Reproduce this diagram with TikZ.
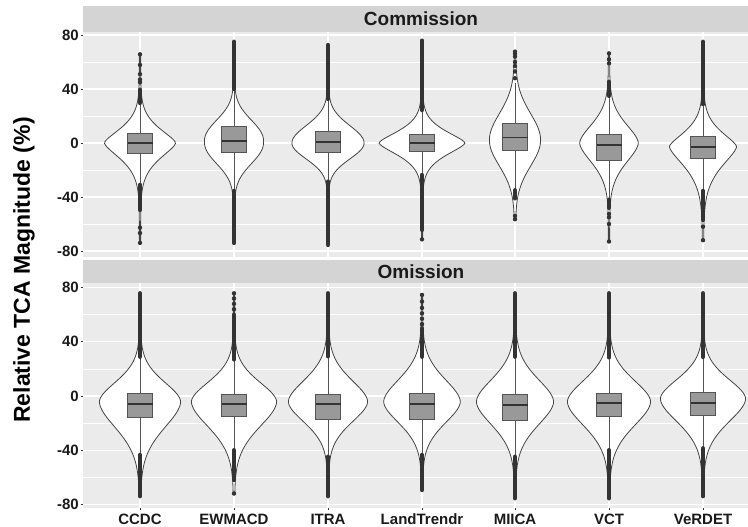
\documentclass[tikz,border=0pt]{standalone}
\usepackage{fontspec}
\setmainfont{Liberation Sans}
\usepackage{xcolor}
\usepackage{tikz}

\definecolor{panelbg}{HTML}{EBEBEB}
\definecolor{stripbg}{HTML}{D4D4D4}
\definecolor{boxfill}{HTML}{999999}
\definecolor{boxline}{HTML}{555555}
\definecolor{violinline}{HTML}{444444}
\definecolor{dotcol}{HTML}{333333}
\definecolor{axistext}{HTML}{1A1A1A}

\begin{document}
\begin{tikzpicture}[x=1pt,y=1pt,
  panel/.style={fill=panelbg},
  strip/.style={fill=stripbg},
  major/.style={draw=white,line width=1.3pt},
  minor/.style={draw=white,line width=0.6pt},
  violin/.style={draw=violinline,fill=white,line width=0.8pt},
  boxp/.style={draw=boxline,fill=boxfill,line width=0.8pt},
  median/.style={draw=dotcol,line width=1.8pt},
  whisk/.style={draw=boxline,line width=0.8pt},
  dense/.style={draw=dotcol,line width=4.4pt,line cap=round},
  pnt/.style={fill=dotcol},
  tickm/.style={draw=dotcol,line width=0.8pt},
  ticklab/.style={anchor=east,inner sep=0pt,text=axistext,font=\fontsize{15}{18}\selectfont\bfseries},
  catlab/.style={inner sep=0pt,text=axistext,font=\fontsize{15}{18}\selectfont\bfseries},
  striplab/.style={inner sep=0pt,text=axistext,font=\fontsize{19}{22}\selectfont\bfseries}]
\useasboundingbox (0,0) rectangle (748,527);
\fill[white] (0,0) rectangle (748,527);

% strips and panels
\fill[strip] (83,495) rectangle (748,521);
\fill[panel] (83,270.3) rectangle (748,495);
\fill[strip] (83,243.7) rectangle (748,267);
\fill[panel] (83,19) rectangle (748,243.7);
\node[striplab](commission) at (421,508){Commission};
\node[striplab](omission) at (421,255.4){Omission};

% top panel: Commission
\begin{scope}[shift={(0pt,384pt)},y=1.35pt]
\foreach \v in {-60,-20,20,60} \draw[minor] (83,\v) -- (748,\v);
\foreach \v in {-80,-40,0,40,80} \draw[major] (83,\v) -- (748,\v);
\foreach \cx in {140,234,328,422,515,609,703} \draw[major] (\cx,-84.2) -- (\cx,82.2);
\foreach \v [count=\i] in {-80,-40,0,40,80}{
  \draw[tickm] (80.5,\v) -- (83,\v);
  \node[ticklab](ctick\i) at (79,\v){\v};
}
% violins: x / width / peak / spread up / spread down / power / min / max
\foreach \cx/\W/\c/\su/\sd/\p/\lo/\hi in {
  140/35/0/15/16.5/1.5/-74/66,
  234/29/1/21/21.5/2.2/-74/75,
  328/35.5/0/18/16.5/2/-75.5/72.6,
  422/42.4/0/12.5/13/1.5/-71.4/75.8,
  515/25/2.2/27.5/27/2/-57/68,
  609/28.7/0/20/21/1.7/-73/66.4,
  703/33/-2.7/15.3/20.9/1.5/-72/75}
  \draw[violin] plot[domain=\lo:\hi,samples=121]
    ({\cx+0.6+\W*exp(-((abs(\x-\c)/((\x>\c)?\su:\sd)+0.001)^\p))},\x)
    -- plot[domain=\hi:\lo,samples=121]
    ({\cx-0.6-\W*exp(-((abs(\x-\c)/((\x>\c)?\su:\sd)+0.001)^\p))},\x) -- cycle;
% boxes: x / q3 / q1 / median / upper whisker / lower whisker
\foreach \cx/\bt/\bb/\md/\wh/\wl in {
  140/7.2/-8/0/30/-30.8,
  234/12/-7/1.7/40.5/-35.5,
  328/8.9/-6.9/0.7/32.6/-28.6,
  422/6.4/-6.4/0/24.4/-23.7,
  515/14.6/-5.2/4/44.3/-34.9,
  609/6.4/-12.6/-1.5/34.9/-41,
  703/4.7/-11.4/-2.7/28.8/-35.5}{
  \draw[whisk] (\cx,\wl) -- (\cx,\bb) (\cx,\bt) -- (\cx,\wh);
  \draw[boxp] (\cx-12.5,\bb) rectangle (\cx+12.5,\bt);
  \draw[median] (\cx-12.5,\md) -- (\cx+12.5,\md);
}
% outliers
\foreach \cx/\a/\b in {140/29.6/39.5,140/-31/-49.6,234/40/75,234/-35.5/-74,
  328/32.6/72.6,328/-28.6/-75.5,422/24.4/75.8,422/-23.7/-64.4,515/-35/-41,
  609/34.9/45.4,609/-42/-48,703/28.8/75,703/-35.5/-57}
  \draw[dense] (\cx,\a) -- (\cx,\b);
\foreach \cx/\v in {140/45,140/47,140/51,140/57.8,140/65.7,140/-62.7,140/-66.7,
  140/-74,422/-71.4,515/48,515/53,515/57,515/60,515/64,515/66,515/67.7,
  515/-54,515/-56.5,609/59,609/62,609/66.4,609/-52.6,609/-55,609/-60,
  609/-73,703/-62,703/-72}
  \fill[pnt] (\cx,\v) circle (2.2pt);
\end{scope}

% bottom panel: Omission
\begin{scope}[shift={(0pt,131pt)},y=1.355pt]
\foreach \v in {-60,-20,20,60} \draw[minor] (83,\v) -- (748,\v);
\foreach \v in {-80,-40,0,40,80} \draw[major] (83,\v) -- (748,\v);
\foreach \cx in {140,234,328,422,515,609,703} \draw[major] (\cx,-82.7) -- (\cx,83.2);
\foreach \v [count=\i] in {-80,-40,0,40,80}{
  \draw[tickm] (80.5,\v) -- (83,\v);
  \node[ticklab](otick\i) at (79,\v){\v};
}
\foreach \cx/\W/\c/\su/\sd/\p/\lo/\hi in {
  140/40/-4.2/21/28/1.8/-74/75.8,
  234/42/-4.2/21/27/1.8/-72/75.8,
  328/39/-4.2/23/22/1.8/-74/75.8,
  422/37.7/-4.2/24/23/1.8/-69.4/74.6,
  515/38/-4.2/24/25/1.8/-75.5/75.8,
  609/41/-4.2/23/26/1.8/-75.5/75.8,
  703/42/-2/21/25/1.8/-74/75.8}
  \draw[violin] plot[domain=\lo:\hi,samples=121]
    ({\cx+0.6+\W*exp(-((abs(\x-\c)/((\x>\c)?\su:\sd)+0.001)^\p))},\x)
    -- plot[domain=\hi:\lo,samples=121]
    ({\cx-0.6-\W*exp(-((abs(\x-\c)/((\x>\c)?\su:\sd)+0.001)^\p))},\x) -- cycle;
\foreach \cx/\bt/\bb/\md/\wh/\wl in {
  140/2/-16/-6.2/29/-43.5,
  234/1.2/-15.3/-6.2/26/-40,
  328/1.5/-17/-6.2/29.3/-44.8,
  422/2/-17/-6.2/29/-43.5,
  515/1.2/-17.7/-6.6/29/-44.8,
  609/2/-15.3/-5.4/28.5/-40,
  703/2.7/-14/-4.9/28.8/-38.6}{
  \draw[whisk] (\cx,\wl) -- (\cx,\bb) (\cx,\bt) -- (\cx,\wh);
  \draw[boxp] (\cx-12.5,\bb) rectangle (\cx+12.5,\bt);
  \draw[median] (\cx-12.5,\md) -- (\cx+12.5,\md);
}
\foreach \cx/\a/\b in {140/29/75.8,140/-43.5/-74,234/27/60,234/-40/-62,
  328/29.3/75.8,328/-44.8/-74,422/29/50,422/-43.5/-69.4,515/29/75.8,
  515/-44.8/-75.5,609/28.5/75.8,609/-40/-75.5,703/28.8/75.8,703/-38.6/-74}
  \draw[dense] (\cx,\a) -- (\cx,\b);
\foreach \cx/\v in {234/64,234/68,234/72,234/75.8,234/-72,422/53,422/57,
  422/61,422/65,422/69.7,422/74.6}
  \fill[pnt] (\cx,\v) circle (2.2pt);
\end{scope}

% x axis
\foreach \cx/\name [count=\i] in {140/CCDC,234/EWMACD,328/ITRA,422/LandTrendr,
  515/MIICA,609/VCT,703/VeRDET}{
  \draw[tickm] (\cx,19) -- (\cx,16.5);
  \node[catlab](cat\i) at (\cx,8){\name};
}

% y axis title
\node[rotate=90,inner sep=0pt,text=black,font=\fontsize{23}{27}\selectfont\bfseries](ytitle) at (24,257){Relative TCA Magnitude (\%)};
\end{tikzpicture}
\end{document}
